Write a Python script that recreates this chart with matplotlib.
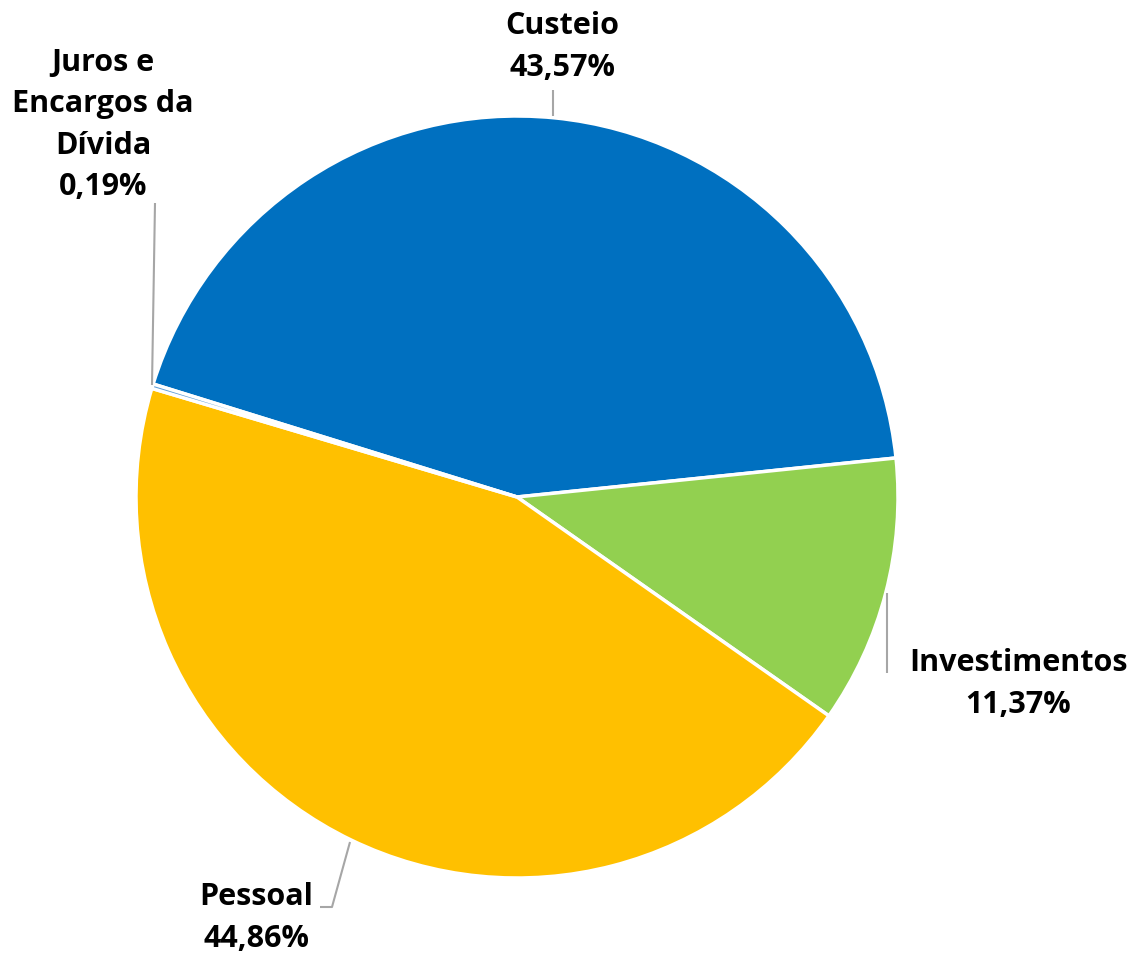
import matplotlib
matplotlib.use('Agg')
import matplotlib.pyplot as plt

# dados (participação por grupo de despesa, %)
labels = ['Custeio', 'Investimentos', 'Pessoal', 'Juros e\nEncargos da\nDívida']
values = [43.57, 11.37, 44.86, 0.19]
colors = ['#0070C0', '#92D050', '#FFC000', '#5B9BD5']

W, H = 1134, 958
fig = plt.figure(figsize=(W / 100, H / 100), dpi=100)
ax = fig.add_axes([0, 0, 1, 1])

cx, cy, r = 517, H - 497, 381
ax.pie(values, colors=colors, startangle=162.75, counterclock=False,
       center=(cx, cy), radius=r,
       wedgeprops=dict(edgecolor='white', linewidth=2.5))

ax.set_xlim(0, W)
ax.set_ylim(0, H)
ax.set_aspect('equal')
ax.axis('off')


def fmt(v):
    return f'{v:.2f}'.replace('.', ',') + '%'


font = dict(family=['Open Sans', 'DejaVu Sans'], fontweight='bold', fontsize=22,
            ha='center', va='center', linespacing=1.5)

# rótulos (posição em pixels da imagem, y medido do topo)
label_pos = {
    'Custeio': (562, 47),
    'Investimentos': (1018, 684),
    'Pessoal': (256, 918),
    'Juros e\nEncargos da\nDívida': (103, 125),
}
for lab, v in zip(labels, values):
    x, y = label_pos[lab]
    ax.text(x, H - y, f'{lab}\n{fmt(v)}', **font)

# linhas de chamada
line_kw = dict(color='#A6A6A6', linewidth=1.5, solid_capstyle='butt')
leaders = [
    ([553, 553], [90, 116]),
    ([155, 152], [203, 385]),
    ([887, 887], [593, 673]),
    ([350, 332, 320], [842, 907, 907]),
]
for xs, ys in leaders:
    ax.plot(xs, [H - y for y in ys], **line_kw)

fig.savefig('out.png', dpi=100)
